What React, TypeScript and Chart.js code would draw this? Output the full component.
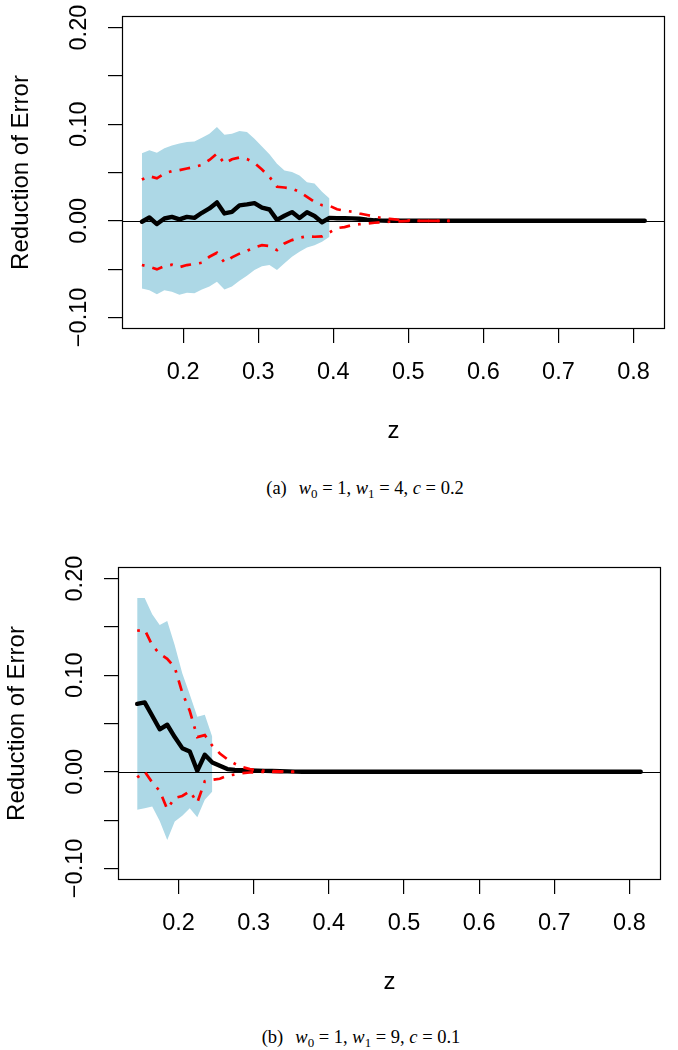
import React, { useEffect, useRef } from 'react';
import { Chart, registerables } from 'chart.js';

Chart.register(...registerables);

// ---- shared x grid (z) ----
const zValues = [
  0.145, 0.155, 0.165, 0.175, 0.185, 0.195, 0.205, 0.215, 0.225, 0.235,
  0.245, 0.255, 0.265, 0.275, 0.285, 0.295, 0.305, 0.315, 0.325, 0.335,
  0.345, 0.355, 0.365, 0.375, 0.385, 0.395, 0.405, 0.415, 0.425, 0.435,
  0.445, 0.455, 0.465, 0.475, 0.485, 0.495, 0.505, 0.515, 0.525, 0.535,
  0.545, 0.555, 0.65, 0.75, 0.815,
];

const xTicks = [0.2, 0.3, 0.4, 0.5, 0.6, 0.7, 0.8];
const xTickLabels = ['0.2', '0.3', '0.4', '0.5', '0.6', '0.7', '0.8'];
const yTicks = [-0.1, -0.05, 0, 0.05, 0.1, 0.15, 0.2];
const yTickLabels = ['\u22120.10', '', '0.00', '', '0.10', '', '0.20'];

// ---- panel (a) ----
const bandUpperA = [
  0.070, 0.073, 0.0705, 0.075, 0.078, 0.080, 0.0817, 0.082, 0.086, 0.090,
  0.097, 0.089, 0.090, 0.093, 0.092, 0.085, 0.077, 0.069, 0.059, 0.052,
  0.0505, 0.047, 0.040, 0.0386, 0.030, 0.023, null, null, null, null,
  null, null, null, null, null, null, null, null, null, null,
  null, null, null, null, null,
];
const bandLowerA = [
  -0.070, -0.072, -0.076, -0.072, -0.0734, -0.0765, -0.0745, -0.075, -0.071, -0.068,
  -0.063, -0.071, -0.068, -0.062, -0.057, -0.051, -0.047, -0.0458, -0.051, -0.044,
  -0.0372, -0.032, -0.0276, -0.0252, -0.0217, -0.0165, null, null, null, null,
  null, null, null, null, null, null, null, null, null, null,
  null, null, null, null, null,
];
const meanA = [
  -0.001, 0.0034, -0.0034, 0.0024, 0.0041, 0.0014, 0.0041, 0.0031, 0.0083, 0.0128,
  0.019, 0.0076, 0.0093, 0.016, 0.017, 0.0183, 0.0136, 0.0117, 0.001, 0.0052,
  0.009, 0.003, 0.0088, 0.005, -0.0015, 0.003, 0.0026, 0.0026, 0.0025, 0.0022,
  0.0012, 0.0005, 0.0002, 0, 0, 0, 0, 0, 0, 0,
  0, 0, 0, 0, 0,
];
const redUpperA = [
  0.0427, 0.0462, 0.044, 0.049, 0.0514, 0.0524, 0.0541, 0.0558, 0.0578, 0.063,
  0.0696, 0.0593, 0.0637, 0.0655, 0.064, 0.060, 0.0531, 0.0455, 0.0352, 0.0345,
  0.0334, 0.030, 0.0248, 0.0196, 0.0162, 0.0155, 0.012, 0.0105, 0.0095, 0.0075,
  0.006, 0.0045, 0.0028, 0.002, 0.0012, 0.0007, 0.0003, 0, 0, 0,
  0, 0, null, null, null,
];
const redLowerA = [
  -0.0458, -0.0476, -0.0503, -0.0469, -0.0455, -0.048, -0.0458, -0.0448, -0.0434, -0.0372,
  -0.0331, -0.0431, -0.0379, -0.034, -0.031, -0.0276, -0.0252, -0.0262, -0.0303, -0.0234,
  -0.020, -0.0175, -0.016, -0.0165, -0.0162, -0.012, -0.0075, -0.0065, -0.0045, -0.0035,
  -0.0028, -0.002, -0.0015, -0.001, -0.0006, -0.0003, 0, 0, 0, 0,
  0, 0, null, null, null,
];

// ---- panel (b) ----
const bandUpperB = [
  0.180, 0.180, 0.163, 0.152, 0.156, 0.131, 0.102, 0.080, 0.057, 0.059,
  0.036, null, null, null, null, null, null, null, null, null,
  null, null, null, null, null, null, null, null, null, null,
  null, null, null, null, null, null, null, null, null, null,
  null, null, null, null, null,
];
const bandLowerB = [
  -0.0393, -0.0376, -0.036, -0.051, -0.0705, -0.0514, -0.0455, -0.0376, -0.047, -0.029,
  -0.0204, null, null, null, null, null, null, null, null, null,
  null, null, null, null, null, null, null, null, null, null,
  null, null, null, null, null, null, null, null, null, null,
  null, null, null, null, null,
];
const meanB = [
  0.0704, 0.0718, 0.058, 0.044, 0.0487, 0.036, 0.0245, 0.021, 0.001, 0.0176,
  0.0097, 0.0062, 0.0028, 0.002, 0.0017, 0.0014, 0.0012, 0.001, 0.0008, 0.0006,
  0.0004, 0.0002, 0, 0, 0, 0, 0, 0, 0, 0,
  0, 0, 0, 0, 0, 0, 0, 0, 0, 0,
  0, 0, 0, 0, 0,
];
const redUpperB = [
  0.146, 0.147, 0.131, 0.122, 0.117, 0.108, 0.082, 0.063, 0.036, 0.038,
  0.027, 0.019, 0.013, 0.0083, 0.0048, 0.0028, 0.0014, 0.001, 0.0007, 0.0004,
  0.0002, 0, null, null, null, null, null, null, null, null,
  null, null, null, null, null, null, null, null, null, null,
  null, null, null, null, null,
];
const redLowerB = [
  -0.0059, 0.0003, -0.011, -0.0197, -0.0386, -0.027, -0.025, -0.020, -0.032, -0.0097,
  -0.0083, -0.0072, -0.0041, -0.0028, -0.0014, -0.0007, -0.0003, 0, 0, 0,
  0, 0, null, null, null, null, null, null, null, null,
  null, null, null, null, null, null, null, null, null, null,
  null, null, null, null, null,
];

const captionA = { tag: 'a', w0: '1', w1: '4', c: '0.2' };
const captionB = { tag: 'b', w0: '1', w1: '9', c: '0.1' };

const SANS = '"Liberation Sans", Arial, Helvetica, sans-serif';
const SERIF = '"Liberation Serif", "Times New Roman", serif';

const rPlugin = {
  id: 'rdecor',
  beforeDatasetDraw(chart: any, args: any) {
    if (args.index !== 2) return;
    const { ctx, chartArea } = chart;
    const y = Math.round(chart.scales.y.getPixelForValue(0)) + 0.5;
    ctx.save();
    ctx.beginPath();
    ctx.moveTo(chartArea.left, y);
    ctx.lineTo(chartArea.right, y);
    ctx.strokeStyle = '#000';
    ctx.lineWidth = 1.2;
    ctx.stroke();
    ctx.restore();
  },
  afterDatasetsDraw(chart: any) {
    const { ctx, chartArea } = chart;
    const l = Math.round(chartArea.left) + 0.5;
    const t = Math.round(chartArea.top) + 0.5;
    const r = Math.round(chartArea.right) - 0.5;
    const b = Math.round(chartArea.bottom) - 0.5;
    ctx.save();
    ctx.strokeStyle = '#000';
    ctx.lineWidth = 1.2;
    ctx.strokeRect(l, t, r - l, b - t);
    ctx.restore();
  },
};

type PanelProps = {
  upper: (number | null)[];
  lower: (number | null)[];
  mean: number[];
  redUp: (number | null)[];
  redLow: (number | null)[];
  xMin: number;
  xMax: number;
  left: number;
  top: number;
};

function Panel({ upper, lower, mean, redUp, redLow, xMin, xMax, left, top }: PanelProps) {
  const ref = useRef<HTMLCanvasElement>(null);
  useEffect(() => {
    const toPts = (arr: (number | null)[]) => zValues.map((x, i) => ({ x, y: arr[i] }));
    const redDash = [2.7, 8.1, 10.8, 8.1];
    const chart = new Chart(ref.current as HTMLCanvasElement, {
      type: 'line',
      data: {
        datasets: [
          { data: toPts(upper), fill: '+1', backgroundColor: '#ADD8E6', borderColor: 'rgba(0,0,0,0)', borderWidth: 0, pointRadius: 0, order: 5 },
          { data: toPts(lower), fill: false, borderColor: 'rgba(0,0,0,0)', borderWidth: 0, pointRadius: 0, order: 4 },
          { data: toPts(mean), fill: false, borderColor: '#000000', borderWidth: 4.4, pointRadius: 0, borderJoinStyle: 'round', borderCapStyle: 'round', order: 2 },
          { data: toPts(redUp), fill: false, borderColor: '#FF0000', borderWidth: 2.7, borderDash: redDash, pointRadius: 0, order: 1 },
          { data: toPts(redLow), fill: false, borderColor: '#FF0000', borderWidth: 2.7, borderDash: redDash, pointRadius: 0, order: 0 },
        ] as any,
      },
      options: {
        animation: false,
        responsive: false,
        devicePixelRatio: 1,
        events: [],
        layout: { padding: { left: 0, right: 13, top: 16, bottom: 0 } },
        plugins: { legend: { display: false }, tooltip: { enabled: false } },
        scales: {
          x: {
            type: 'linear',
            min: xMin,
            max: xMax,
            afterBuildTicks: (s: any) => { s.ticks = xTicks.map((v) => ({ value: v })); },
            afterFit: (s: any) => { s.height = 131; },
            ticks: {
              autoSkip: false, minRotation: 0, maxRotation: 0, padding: 15, color: '#000',
              font: { family: SANS, size: 23.5 },
              callback: (_v: any, i: number) => xTickLabels[i],
            },
            grid: { drawOnChartArea: false, drawTicks: true, tickLength: 14, color: '#000', lineWidth: 1.2 },
            border: { display: false },
            title: { display: true, text: 'z', color: '#000', font: { family: SANS, size: 24 }, padding: { top: 0, bottom: 14.6 } },
          },
          y: {
            type: 'linear',
            min: -0.112,
            max: 0.212,
            afterBuildTicks: (s: any) => { s.ticks = yTicks.map((v) => ({ value: v })); },
            afterFit: (s: any) => { s.width = 122; },
            ticks: {
              autoSkip: false, minRotation: 90, maxRotation: 90, crossAlign: 'center', padding: -1, color: '#000',
              font: { family: SANS, size: 23.5 },
              callback: (_v: any, i: number) => yTickLabels[i],
            },
            grid: { drawOnChartArea: false, drawTicks: true, tickLength: 14, color: '#000', lineWidth: 1.2 },
            border: { display: false },
            title: { display: true, text: 'Reduction of Error', color: '#000', font: { family: SANS, size: 24 }, padding: { top: 7, bottom: 0 } },
          },
        },
      } as any,
      plugins: [rPlugin],
    });
    return () => chart.destroy();
  }, []);
  return (
    <canvas
      ref={ref}
      width={678}
      height={460}
      style={{ position: 'absolute', left, top, width: 678, height: 460 }}
    />
  );
}

function Caption({ cap, center, top }: { cap: typeof captionA; center: number; top: number }) {
  return (
    <div
      style={{
        position: 'absolute', left: center - 200, width: 400, top, textAlign: 'center',
        fontFamily: SERIF, fontSize: 18.5, lineHeight: '24px', color: '#000', whiteSpace: 'nowrap',
      }}
    >
      ({cap.tag})<span style={{ display: 'inline-block', width: 12 }} />
      <i>w</i><span style={{ fontSize: '0.7em', position: 'relative', top: '0.3em' }}>0</span> = {cap.w0},{' '}
      <i>w</i><span style={{ fontSize: '0.7em', position: 'relative', top: '0.3em' }}>1</span> = {cap.w1},{' '}
      <i>c</i> = {cap.c}
    </div>
  );
}

export default function App() {
  return (
    <div style={{ position: 'absolute', left: 0, top: 0, width: 678, height: 1050, background: '#fff', overflow: 'hidden' }}>
      <Panel upper={bandUpperA} lower={bandLowerA} mean={meanA} redUp={redUpperA} redLow={redLowerA} xMin={0.1185} xMax={0.842} left={0} top={0} />
      <Caption cap={captionA} center={365} top={476} />
      <Panel upper={bandUpperB} lower={bandLowerB} mean={meanB} redUp={redUpperB} redLow={redLowerB} xMin={0.1195} xMax={0.842} left={-4} top={551} />
      <Caption cap={captionB} center={361} top={1025} />
    </div>
  );
}
